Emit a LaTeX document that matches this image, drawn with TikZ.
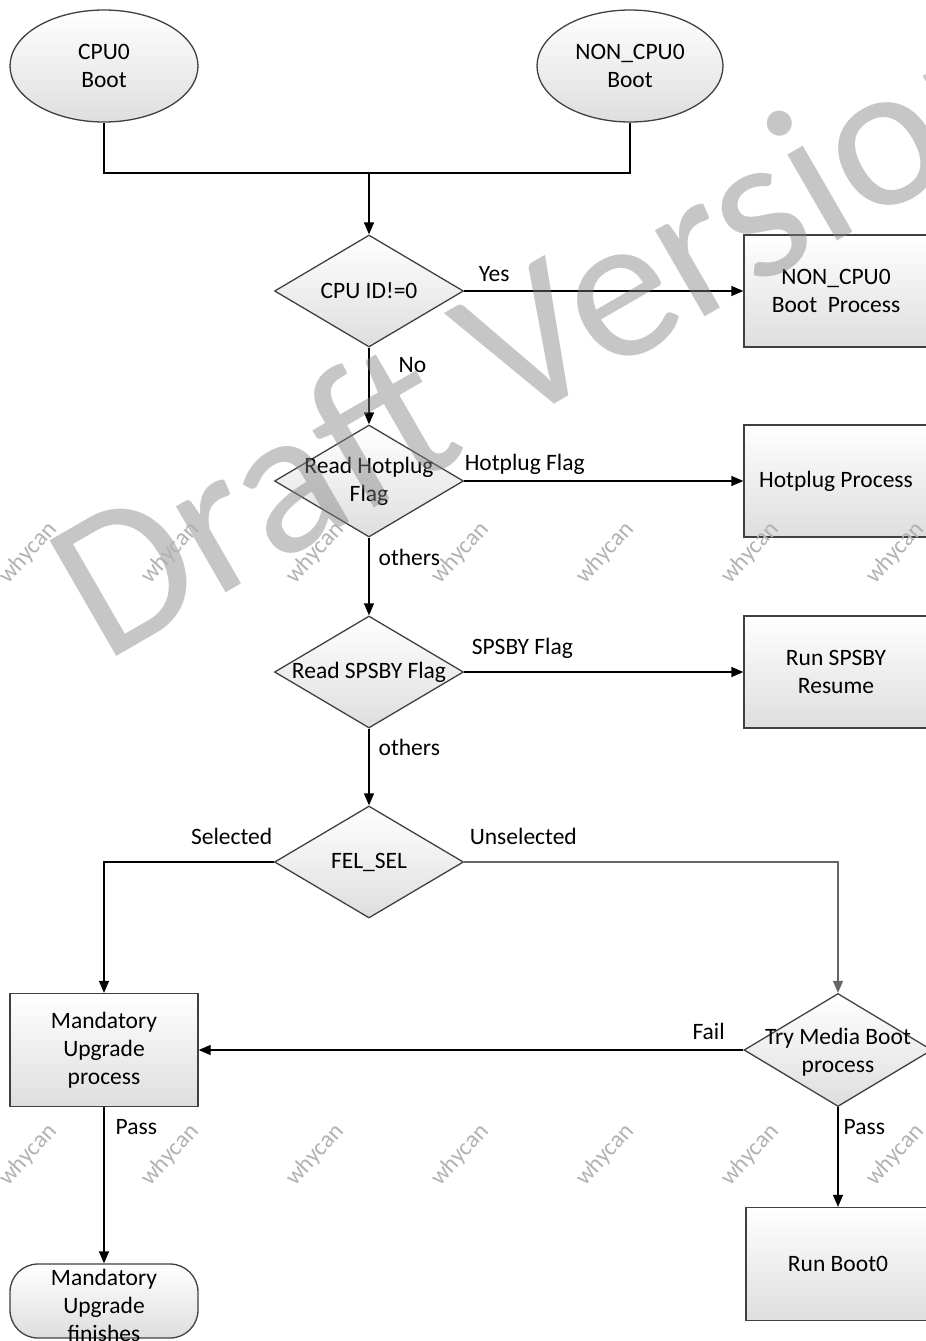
\documentclass[tikz,border=0pt]{standalone}
\usepackage{fontspec}
\setmainfont{Carlito}
\usetikzlibrary{shapes.geometric,arrows.meta}

\begin{document}
\begin{tikzpicture}[x=1pt,y=-1pt,font=\fontsize{23.5}{28}\selectfont]


\tikzset{
	shape base/.style={draw=black!75, line width=1.3pt, top color=white, bottom color=black!13, inner sep=0pt, align=center},
	start/.style={shape base, ellipse, minimum width=188pt, minimum height=112pt},
	proc/.style={shape base, rectangle, minimum width=184pt, minimum height=112pt},
	decide/.style={shape base, diamond, minimum width=189pt, minimum height=112pt},
	finish/.style={shape base, rectangle, rounded corners=28pt, minimum width=188pt, minimum height=74pt},
	flow/.style={line width=1.3pt, -{Triangle[length=12pt,width=10pt]}},
	link/.style={line width=1.3pt},
	tag/.style={inner sep=0pt},
	wmbig/.style={text=black!50, opacity=0.45, inner sep=0pt, font=\fontsize{208}{208}\selectfont},
	wmsmall/.style={text=black!30, inner sep=0pt, font=\fontsize{24}{24}\selectfont}
}

\useasboundingbox (0,0) rectangle (926,1341);

\node[start] (cpu0) at (104,66) {CPU0\\Boot};
\node[start, minimum width=186pt] (noncpu) at (630,66) {NON\_CPU0\\Boot};
\coordinate (join) at (369,173);

\node[decide, label={center:CPU ID!=0}] (cpuid) at (369,291) {};
\node[proc] (noncpuproc) at (836,291) {NON\_CPU0\\Boot\ \ Process};

\node[decide, label={[align=center]center:Read Hotplug\\Flag}] (hotflag) at (369,481) {};
\node[proc] (hotproc) at (836,481) {Hotplug Process};

\node[decide, label={center:Read SPSBY Flag}] (spsbyflag) at (369,672) {};
\node[proc] (spsbyproc) at (836,672) {Run SPSBY\\Resume};

\node[decide, label={center:FEL\_SEL}] (felsel) at (369,862) {};

\node[proc, minimum width=188pt, minimum height=113pt] (mupgrade) at (104,1050) {Mandatory\\Upgrade\\process};
\node[decide, minimum width=188pt, minimum height=113pt, label={[align=center,yshift=-2pt]center:Try Media Boot\\process}] (media) at (838,1050) {};

\node[finish, label={[align=center,yshift=-4pt]center:Mandatory\\Upgrade\\finishes}] (mfinish) at (104,1301) {};
\node[proc, minimum height=113pt] (boot0) at (838,1264) {Run Boot0};

\draw[link] (cpu0.south) -- (cpu0.south |- join) -- (noncpu.south |- join) -- (noncpu.south);
\draw[flow] (join) -- (cpuid.north);

\draw[flow] (cpuid.east) -- node[tag, pos=0, anchor=base west, xshift=14pt, yshift=10pt] (yes) {Yes} (noncpuproc.west);
\draw[flow] (cpuid.south) -- node[tag, pos=0, anchor=base west, xshift=29pt, yshift=-25pt] (no) {No} (hotflag.north);

\draw[flow] (hotflag.east) -- node[tag, pos=0, anchor=base west, xshift=0pt, yshift=11pt] (hotlbl) {Hotplug Flag} (hotproc.west);
\draw[flow] (hotflag.south) -- node[tag, pos=0, anchor=base west, xshift=9pt, yshift=-28pt] (others1) {others} (spsbyflag.north);

\draw[flow] (spsbyflag.east) -- node[tag, pos=0, anchor=base west, xshift=7pt, yshift=18pt] (spsbylbl) {SPSBY Flag} (spsbyproc.west);
\draw[flow] (spsbyflag.south) -- node[tag, pos=0, anchor=base west, xshift=9pt, yshift=-27pt] (others2) {others} (felsel.north);

\draw[flow] (felsel.west) -| node[tag, pos=0, anchor=base east, xshift=-1pt, yshift=18pt] (sel) {Selected} (mupgrade.north);
\draw[flow, black!60] (felsel.east) -| node[tag, pos=0, anchor=base west, text=black, xshift=5pt, yshift=18pt] (unsel) {Unselected} (media.north);

\draw[flow] (media.west) -- node[tag, pos=0, anchor=base east, xshift=-18pt, yshift=11pt] (fail) {Fail} (mupgrade.east);
\draw[flow] (mupgrade.south) -- node[tag, pos=0, anchor=base west, xshift=11pt, yshift=-27pt] (pass1) {Pass} (mfinish.north);
\draw[flow] (media.south) -- node[tag, pos=0, anchor=base west, xshift=5pt, yshift=-27pt] (pass2) {Pass} (boot0.north);

\node[wmbig, rotate=30, anchor=base west] (draft) at (104,664) {Draft Version};
\foreach \x in {28,170,315,460,605,750,895}
	\foreach \y in {553,1155}
		\node[wmsmall, rotate=48] (wm-\x-\y) at (\x,\y) {whycan};

\end{tikzpicture}
\end{document}
